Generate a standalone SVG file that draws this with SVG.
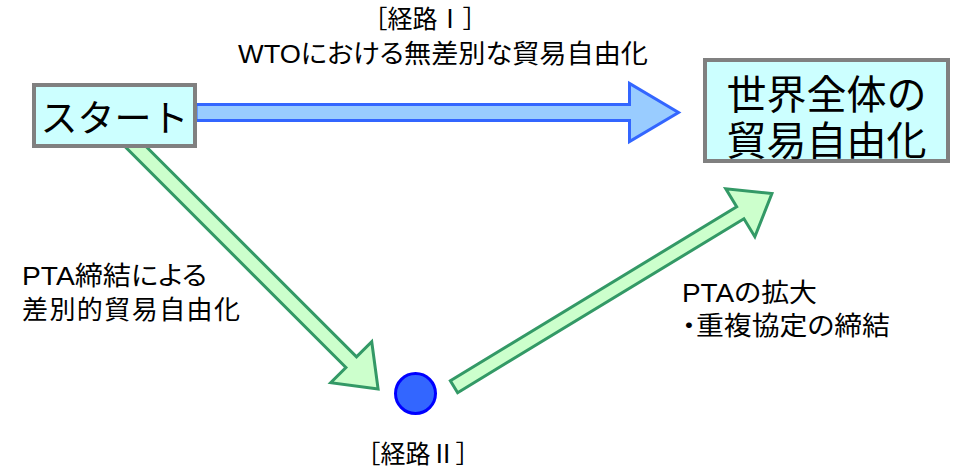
<svg xmlns="http://www.w3.org/2000/svg" width="955" height="471" viewBox="0 0 955 471">
<style>
  text { font-family: "Liberation Sans", "Noto Sans CJK JP", sans-serif; fill: #000; }
  .lbl { font-size: 26px; font-feature-settings: "palt"; }
  .brk { font-family: "Noto Sans CJK JP", sans-serif; font-size: 25px; }
  .box { fill: #CCFFFF; stroke: #808080; stroke-width: 4; }
  .green { fill: #CCFFCC; stroke: #339966; stroke-width: 3; stroke-linejoin: miter; }
  .blue { fill: #99CCFF; stroke: #3366FF; stroke-width: 3; stroke-linejoin: miter; }
</style>
<rect width="955" height="471" fill="#fff"/>
<g id="connectors">
  <path class="blue" d="M196,104.5 H629.5 V83.5 L678.5,112.5 L629.5,141.5 V120.5 H196 Z"/>
  <path class="green" transform="translate(120,131) rotate(45)" d="M0,-7.5 H327 V-29 L365,0 L327,29 V7.5 H0 Z"/>
  <path class="green" transform="translate(454,386.7) rotate(-31.28)" d="M0,-7 H335 V-28 L372,0 L335,28 V7 H0 Z"/>
</g>
<g id="start">
  <rect class="box" x="34" y="85" width="161" height="61"/>
  <text x="114.5" y="132" font-size="37" text-anchor="middle">スタート</text>
</g>
<g id="goal">
  <rect class="box" x="705" y="60" width="243" height="101"/>
  <text x="826.5" y="109" font-size="40" text-anchor="middle">世界全体の</text>
  <text x="826.5" y="155" font-size="40" text-anchor="middle">貿易自由化</text>
</g>
<g id="mid">
  <circle cx="415.5" cy="393.5" r="20" fill="#3366FF" stroke="#0000FF" stroke-width="3"/>
</g>
<g id="labels">
  <text class="brk" x="425" y="28" text-anchor="middle">［経路Ⅰ］</text>
  <text class="lbl" x="238" y="63" textLength="410" lengthAdjust="spacingAndGlyphs">WTOにおける無差別な貿易自由化</text>
  <text class="lbl" x="22" y="285" textLength="185" lengthAdjust="spacingAndGlyphs">PTA締結による</text>
  <text class="lbl" x="22" y="319" textLength="218" lengthAdjust="spacing">差別的貿易自由化</text>
  <text class="lbl" x="682" y="302" textLength="135" lengthAdjust="spacingAndGlyphs">PTAの拡大</text>
  <text class="lbl" x="682" y="335" textLength="208" lengthAdjust="spacingAndGlyphs">・重複協定の締結</text>
  <text class="brk" x="418" y="463" text-anchor="middle">［経路Ⅱ］</text>
</g>
</svg>
